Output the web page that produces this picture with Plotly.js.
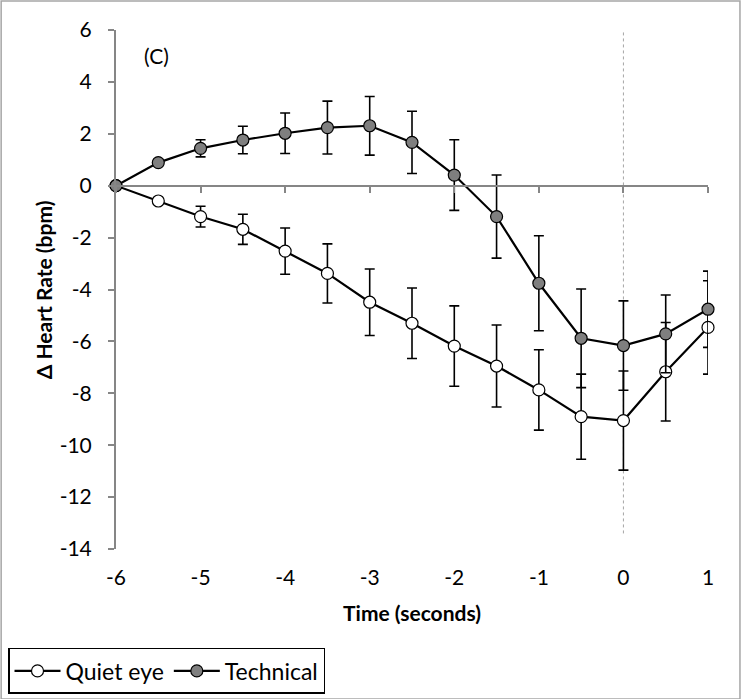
<!DOCTYPE html>
<html>
<head>
<meta charset="utf-8">
<script src="https://cdn.plot.ly/plotly-3.0.1.min.js"></script>
<style>html,body{margin:0;padding:0;background:#fff;}#chart{width:742px;height:699px;}</style>
</head>
<body>
<div id="chart"></div>
<script>
// Time (seconds)
var time = [-6, -5.5, -5, -4.5, -4, -3.5, -3, -2.5, -2, -1.5, -1, -0.5, 0, 0.5, 1];
// Quiet eye: mean change and error
var quietEye = [0, -0.59, -1.19, -1.68, -2.52, -3.38, -4.49, -5.30, -6.18, -6.95, -7.87, -8.90, -9.05, -7.17, -5.46];
var quietErr = [0, 0.08, 0.40, 0.58, 0.89, 1.14, 1.28, 1.36, 1.55, 1.58, 1.55, 1.64, 1.91, 1.90, 1.80];
// Technical: mean change and error
var technical = [0, 0.89, 1.44, 1.76, 2.02, 2.24, 2.31, 1.67, 0.41, -1.19, -3.76, -5.88, -6.16, -5.71, -4.76];
var techErr = [0, 0.12, 0.33, 0.53, 0.78, 1.02, 1.13, 1.20, 1.36, 1.60, 1.83, 1.90, 1.72, 1.50, 1.47];
var xTicks = [-6, -5, -4, -3, -2, -1, 0, 1];
var yTicks = [6, 4, 2, 0, -2, -4, -6, -8, -10, -12, -14];
var yTitle = 'Δ Heart Rate (bpm)';
var xTitle = 'Time (seconds)';

var FONT = 'Lato, sans-serif';

var traces = [
  {
    x: time, y: quietEye, name: 'Quiet eye', type: 'scatter', mode: 'lines+markers',
    cliponaxis: false,
    line: {color: '#000', width: 2.2},
    marker: {symbol: 'circle', size: 12, color: '#fff', line: {color: '#000', width: 1.2}},
    error_y: {type: 'data', array: quietErr, visible: true, color: '#000', thickness: 1.6, width: 5}
  },
  {
    x: time, y: technical, name: 'Technical', type: 'scatter', mode: 'lines+markers',
    cliponaxis: false,
    line: {color: '#000', width: 2.2},
    marker: {symbol: 'circle', size: 12, color: '#7f7f7f', line: {color: '#000', width: 1.2}},
    error_y: {type: 'data', array: techErr, visible: true, color: '#000', thickness: 1.6, width: 5}
  },
  {
    x: xTicks, y: xTicks.map(function(){return 0;}), xaxis: 'x2', yaxis: 'y',
    type: 'scatter', mode: 'none', showlegend: false, hoverinfo: 'skip'
  }
];

var layout = {
  width: 742, height: 699,
  margin: {l: 116, r: 34, t: 30, b: 150},
  paper_bgcolor: '#fff', plot_bgcolor: '#fff',
  font: {family: FONT, size: 20, color: '#000'},
  showlegend: true,
  xaxis: {
    range: [-6, 1], tickvals: xTicks, ticktext: xTicks.map(String),
    automargin: true,
    showline: false, zeroline: false, showgrid: false,
    ticks: 'outside', ticklen: 10, tickcolor: 'rgba(0,0,0,0)',
    tickfont: {family: FONT, size: 21, color: '#000'},
    title: {text: '<b>' + xTitle + '</b>', font: {family: FONT, size: 21, color: '#000'}, standoff: 18}
  },
  xaxis2: {
    range: [-6, 1], overlaying: 'x', anchor: 'free', position: 0.7,
    automargin: false,
    tickvals: xTicks, showticklabels: false,
    showline: true, linecolor: '#868686', linewidth: 2,
    ticks: 'outside', ticklen: 6, tickwidth: 2, tickcolor: '#868686',
    zeroline: false, showgrid: false
  },
  yaxis: {
    range: [-14, 6], tickvals: yTicks, ticktext: yTicks.map(String),
    automargin: false,
    showline: true, linecolor: '#868686', linewidth: 2,
    ticks: 'outside', ticklen: 6, tickwidth: 2, tickcolor: '#868686',
    ticklabelstandoff: 12,
    zeroline: false, showgrid: false,
    tickfont: {family: FONT, size: 21, color: '#000'}
  },
  legend: {
    orientation: 'h', xref: 'container', yref: 'container',
    x: 0.0108, xanchor: 'left', y: 0.073, yanchor: 'top',
    bordercolor: '#000', borderwidth: 1.5, bgcolor: '#fff',
    font: {family: FONT, size: 23, color: '#000'},
    itemwidth: 46, tracegroupgap: 0
  },
  shapes: [
    {type: 'line', xref: 'x', yref: 'y', x0: 0, x1: 0, y0: -13.4, y1: 6,
     line: {color: '#a6a6a6', width: 1, dash: 'dot'}, layer: 'below'},
    {type: 'rect', xref: 'paper', yref: 'paper', x0: -0.194, x1: 1.054, y0: -0.289, y1: 1.056,
     line: {color: '#a6a6a6', width: 1.5}, fillcolor: 'rgba(0,0,0,0)'}
  ],
  annotations: [
    {text: '(C)', xref: 'x', yref: 'y', x: -5.52, y: 5.0, showarrow: false,
     font: {family: FONT, size: 21, color: '#000'}},
    {text: '<b>' + yTitle + '</b>', xref: 'paper', yref: 'paper', x: -0.122, y: 0.5,
     xanchor: 'center', yanchor: 'middle', textangle: -90, showarrow: false,
     font: {family: FONT, size: 21, color: '#000'}}
  ]
};

Plotly.newPlot('chart', traces, layout, {displayModeBar: false, staticPlot: true});
</script>
</body>
</html>
